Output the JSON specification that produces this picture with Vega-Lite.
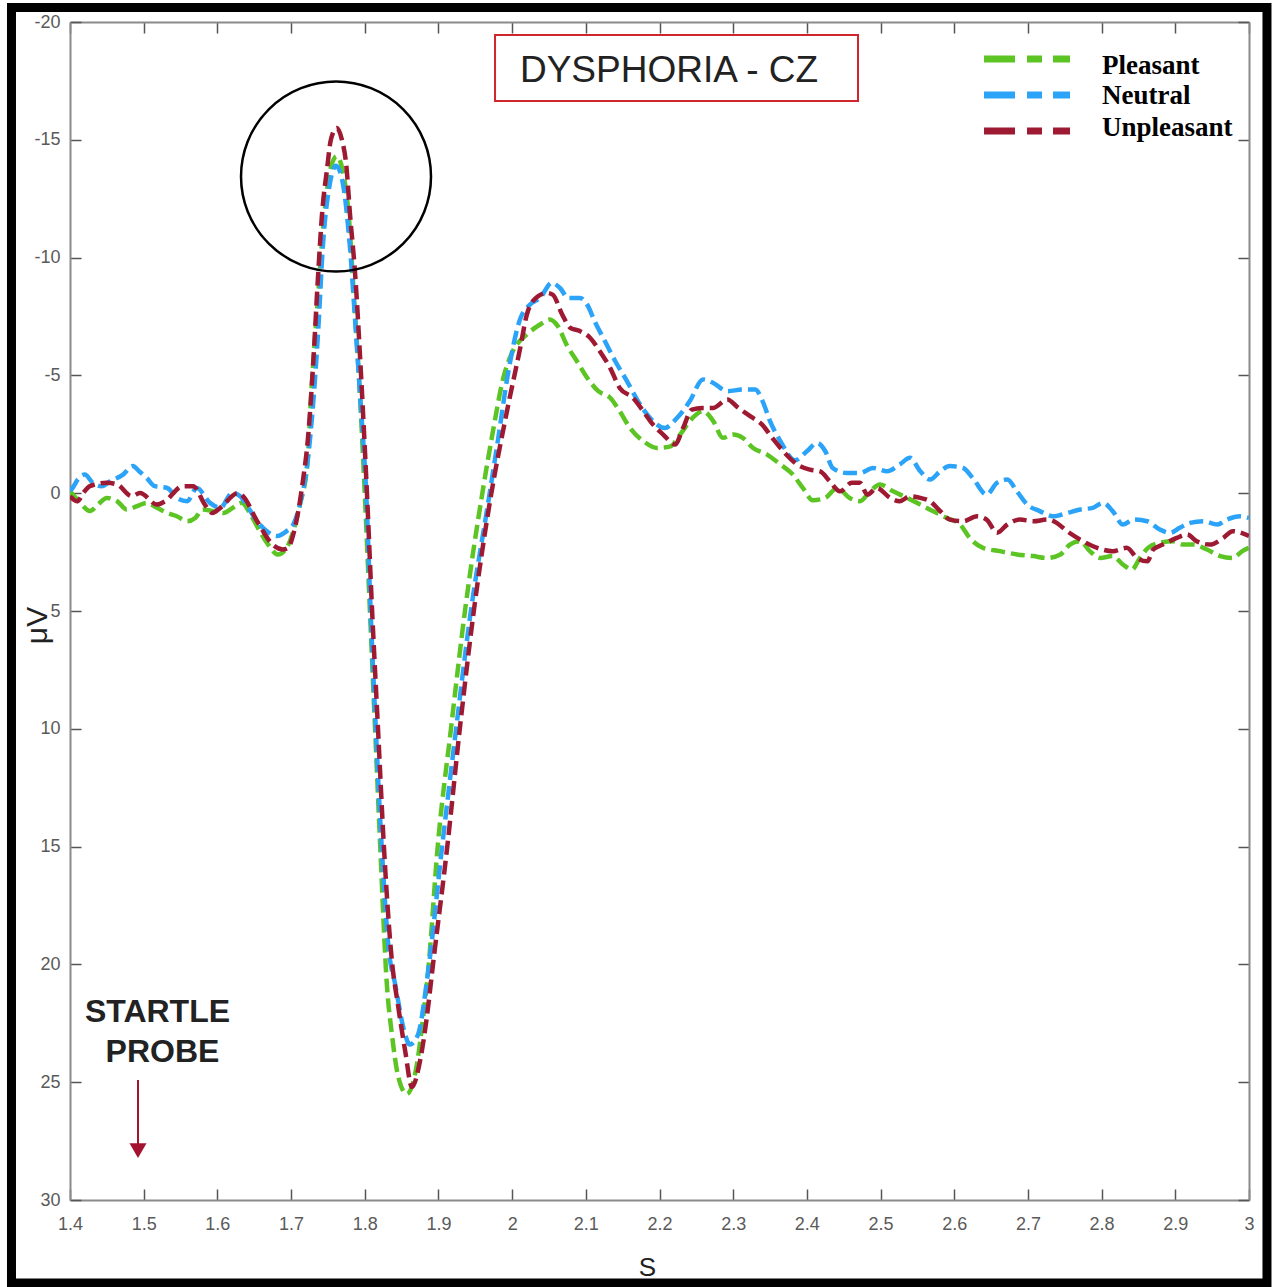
{
  "$schema": "https://vega.github.io/schema/vega-lite/v6.json",
  "width": 1179,
  "height": 1178,
  "autosize": {"type": "none"},
  "padding": {"left": 70, "top": 22, "right": 25, "bottom": 87},
  "background": "white",
  "config": {"view": {"stroke": null}, "axis": {"grid": false}},
  "datasets": {
    "waves": [
      {"cond":"Pleasant","t":1.400,"uv":-0.08},{"cond":"Pleasant","t":1.414,"uv":0.41},{"cond":"Pleasant","t":1.427,"uv":0.76},{"cond":"Pleasant","t":1.438,"uv":0.48},{"cond":"Pleasant","t":1.450,"uv":0.2},{"cond":"Pleasant","t":1.464,"uv":0.34},{"cond":"Pleasant","t":1.477,"uv":0.69},{"cond":"Pleasant","t":1.491,"uv":0.55},{"cond":"Pleasant","t":1.504,"uv":0.41},{"cond":"Pleasant","t":1.518,"uv":0.62},{"cond":"Pleasant","t":1.532,"uv":0.84},{"cond":"Pleasant","t":1.545,"uv":0.98},{"cond":"Pleasant","t":1.559,"uv":1.19},{"cond":"Pleasant","t":1.570,"uv":1.05},{"cond":"Pleasant","t":1.580,"uv":0.69},{"cond":"Pleasant","t":1.594,"uv":0.76},{"cond":"Pleasant","t":1.608,"uv":0.84},{"cond":"Pleasant","t":1.621,"uv":0.62},{"cond":"Pleasant","t":1.633,"uv":0.41},{"cond":"Pleasant","t":1.644,"uv":0.84},{"cond":"Pleasant","t":1.655,"uv":1.47},{"cond":"Pleasant","t":1.669,"uv":2.18},{"cond":"Pleasant","t":1.682,"uv":2.6},{"cond":"Pleasant","t":1.694,"uv":2.32},{"cond":"Pleasant","t":1.703,"uv":1.61},{"cond":"Pleasant","t":1.712,"uv":0.48},{"cond":"Pleasant","t":1.722,"uv":-1.22},{"cond":"Pleasant","t":1.728,"uv":-4.5},{"cond":"Pleasant","t":1.737,"uv":-8.5},{"cond":"Pleasant","t":1.745,"uv":-11.8},{"cond":"Pleasant","t":1.753,"uv":-13.7},{"cond":"Pleasant","t":1.762,"uv":-14.3},{"cond":"Pleasant","t":1.770,"uv":-13.7},{"cond":"Pleasant","t":1.779,"uv":-11.5},{"cond":"Pleasant","t":1.785,"uv":-8.5},{"cond":"Pleasant","t":1.792,"uv":-5},{"cond":"Pleasant","t":1.800,"uv":0},{"cond":"Pleasant","t":1.807,"uv":5},{"cond":"Pleasant","t":1.814,"uv":10},{"cond":"Pleasant","t":1.821,"uv":15},{"cond":"Pleasant","t":1.830,"uv":20.85},{"cond":"Pleasant","t":1.837,"uv":23},{"cond":"Pleasant","t":1.845,"uv":24.7},{"cond":"Pleasant","t":1.857,"uv":25.5},{"cond":"Pleasant","t":1.871,"uv":24.2},{"cond":"Pleasant","t":1.879,"uv":22.3},{"cond":"Pleasant","t":1.886,"uv":20.3},{"cond":"Pleasant","t":1.899,"uv":15},{"cond":"Pleasant","t":1.917,"uv":10},{"cond":"Pleasant","t":1.936,"uv":5},{"cond":"Pleasant","t":1.960,"uv":-0.08},{"cond":"Pleasant","t":1.974,"uv":-2.63},{"cond":"Pleasant","t":1.988,"uv":-4.89},{"cond":"Pleasant","t":2.001,"uv":-6.03},{"cond":"Pleasant","t":2.020,"uv":-6.74},{"cond":"Pleasant","t":2.038,"uv":-7.16},{"cond":"Pleasant","t":2.051,"uv":-7.37},{"cond":"Pleasant","t":2.062,"uv":-7.09},{"cond":"Pleasant","t":2.074,"uv":-6.3},{"cond":"Pleasant","t":2.088,"uv":-5.6},{"cond":"Pleasant","t":2.102,"uv":-4.89},{"cond":"Pleasant","t":2.117,"uv":-4.33},{"cond":"Pleasant","t":2.133,"uv":-4.05},{"cond":"Pleasant","t":2.146,"uv":-3.48},{"cond":"Pleasant","t":2.160,"uv":-2.77},{"cond":"Pleasant","t":2.178,"uv":-2.21},{"cond":"Pleasant","t":2.197,"uv":-1.92},{"cond":"Pleasant","t":2.215,"uv":-1.99},{"cond":"Pleasant","t":2.228,"uv":-2.49},{"cond":"Pleasant","t":2.245,"uv":-3.2},{"cond":"Pleasant","t":2.259,"uv":-3.48},{"cond":"Pleasant","t":2.273,"uv":-3.06},{"cond":"Pleasant","t":2.286,"uv":-2.35},{"cond":"Pleasant","t":2.300,"uv":-2.49},{"cond":"Pleasant","t":2.313,"uv":-2.35},{"cond":"Pleasant","t":2.327,"uv":-1.92},{"cond":"Pleasant","t":2.346,"uv":-1.64},{"cond":"Pleasant","t":2.364,"uv":-1.22},{"cond":"Pleasant","t":2.381,"uv":-0.79},{"cond":"Pleasant","t":2.395,"uv":-0.2},{"cond":"Pleasant","t":2.408,"uv":0.3},{"cond":"Pleasant","t":2.425,"uv":0.2},{"cond":"Pleasant","t":2.441,"uv":-0.22},{"cond":"Pleasant","t":2.458,"uv":0.2},{"cond":"Pleasant","t":2.472,"uv":0.34},{"cond":"Pleasant","t":2.486,"uv":-0.08},{"cond":"Pleasant","t":2.499,"uv":-0.37},{"cond":"Pleasant","t":2.517,"uv":-0.08},{"cond":"Pleasant","t":2.536,"uv":0.2},{"cond":"Pleasant","t":2.554,"uv":0.48},{"cond":"Pleasant","t":2.571,"uv":0.76},{"cond":"Pleasant","t":2.590,"uv":1.05},{"cond":"Pleasant","t":2.608,"uv":1.33},{"cond":"Pleasant","t":2.621,"uv":1.9},{"cond":"Pleasant","t":2.639,"uv":2.32},{"cond":"Pleasant","t":2.662,"uv":2.46},{"cond":"Pleasant","t":2.685,"uv":2.6},{"cond":"Pleasant","t":2.707,"uv":2.67},{"cond":"Pleasant","t":2.726,"uv":2.75},{"cond":"Pleasant","t":2.744,"uv":2.6},{"cond":"Pleasant","t":2.757,"uv":2.18},{"cond":"Pleasant","t":2.771,"uv":2.04},{"cond":"Pleasant","t":2.784,"uv":2.46},{"cond":"Pleasant","t":2.798,"uv":2.75},{"cond":"Pleasant","t":2.815,"uv":2.67},{"cond":"Pleasant","t":2.829,"uv":3.03},{"cond":"Pleasant","t":2.841,"uv":3.24},{"cond":"Pleasant","t":2.852,"uv":2.75},{"cond":"Pleasant","t":2.863,"uv":2.32},{"cond":"Pleasant","t":2.879,"uv":2.11},{"cond":"Pleasant","t":2.897,"uv":2.04},{"cond":"Pleasant","t":2.910,"uv":2.18},{"cond":"Pleasant","t":2.924,"uv":2.18},{"cond":"Pleasant","t":2.943,"uv":2.39},{"cond":"Pleasant","t":2.961,"uv":2.67},{"cond":"Pleasant","t":2.978,"uv":2.75},{"cond":"Pleasant","t":2.991,"uv":2.46},{"cond":"Pleasant","t":3.000,"uv":2.32},

      {"cond":"Neutral","t":1.400,"uv":-0.1},{"cond":"Neutral","t":1.403,"uv":-0.2},{"cond":"Neutral","t":1.411,"uv":-0.6},{"cond":"Neutral","t":1.420,"uv":-0.79},{"cond":"Neutral","t":1.431,"uv":-0.44},{"cond":"Neutral","t":1.443,"uv":-0.3},{"cond":"Neutral","t":1.454,"uv":-0.5},{"cond":"Neutral","t":1.472,"uv":-0.79},{"cond":"Neutral","t":1.485,"uv":-1.15},{"cond":"Neutral","t":1.495,"uv":-0.9},{"cond":"Neutral","t":1.504,"uv":-0.65},{"cond":"Neutral","t":1.515,"uv":-0.3},{"cond":"Neutral","t":1.532,"uv":-0.22},{"cond":"Neutral","t":1.545,"uv":0.2},{"cond":"Neutral","t":1.559,"uv":0.34},{"cond":"Neutral","t":1.572,"uv":-0.22},{"cond":"Neutral","t":1.590,"uv":0.41},{"cond":"Neutral","t":1.604,"uv":0.62},{"cond":"Neutral","t":1.620,"uv":-0.01},{"cond":"Neutral","t":1.631,"uv":0.13},{"cond":"Neutral","t":1.642,"uv":0.62},{"cond":"Neutral","t":1.654,"uv":1.19},{"cond":"Neutral","t":1.667,"uv":1.61},{"cond":"Neutral","t":1.681,"uv":1.82},{"cond":"Neutral","t":1.694,"uv":1.61},{"cond":"Neutral","t":1.703,"uv":1.33},{"cond":"Neutral","t":1.712,"uv":0.48},{"cond":"Neutral","t":1.722,"uv":-1.22},{"cond":"Neutral","t":1.728,"uv":-3.06},{"cond":"Neutral","t":1.737,"uv":-7.0},{"cond":"Neutral","t":1.743,"uv":-10.4},{"cond":"Neutral","t":1.753,"uv":-13.2},{"cond":"Neutral","t":1.761,"uv":-13.9},{"cond":"Neutral","t":1.770,"uv":-13.2},{"cond":"Neutral","t":1.780,"uv":-10.4},{"cond":"Neutral","t":1.787,"uv":-7.3},{"cond":"Neutral","t":1.794,"uv":-4.0},{"cond":"Neutral","t":1.802,"uv":0},{"cond":"Neutral","t":1.808,"uv":5},{"cond":"Neutral","t":1.815,"uv":10},{"cond":"Neutral","t":1.823,"uv":15},{"cond":"Neutral","t":1.833,"uv":19.5},{"cond":"Neutral","t":1.841,"uv":20.8},{"cond":"Neutral","t":1.855,"uv":23},{"cond":"Neutral","t":1.861,"uv":23.4},{"cond":"Neutral","t":1.872,"uv":23},{"cond":"Neutral","t":1.886,"uv":20.3},{"cond":"Neutral","t":1.905,"uv":15},{"cond":"Neutral","t":1.924,"uv":10},{"cond":"Neutral","t":1.944,"uv":5},{"cond":"Neutral","t":1.967,"uv":0.5},{"cond":"Neutral","t":1.981,"uv":-2.3},{"cond":"Neutral","t":1.994,"uv":-5},{"cond":"Neutral","t":2.011,"uv":-7.4},{"cond":"Neutral","t":2.024,"uv":-8.0},{"cond":"Neutral","t":2.038,"uv":-8.29},{"cond":"Neutral","t":2.054,"uv":-8.93},{"cond":"Neutral","t":2.065,"uv":-8.71},{"cond":"Neutral","t":2.076,"uv":-8.29},{"cond":"Neutral","t":2.092,"uv":-8.29},{"cond":"Neutral","t":2.102,"uv":-8.0},{"cond":"Neutral","t":2.112,"uv":-7.3},{"cond":"Neutral","t":2.126,"uv":-6.45},{"cond":"Neutral","t":2.140,"uv":-5.6},{"cond":"Neutral","t":2.156,"uv":-4.75},{"cond":"Neutral","t":2.171,"uv":-3.9},{"cond":"Neutral","t":2.187,"uv":-3.2},{"cond":"Neutral","t":2.207,"uv":-2.77},{"cond":"Neutral","t":2.224,"uv":-3.2},{"cond":"Neutral","t":2.241,"uv":-3.9},{"cond":"Neutral","t":2.259,"uv":-4.83},{"cond":"Neutral","t":2.273,"uv":-4.68},{"cond":"Neutral","t":2.292,"uv":-4.33},{"cond":"Neutral","t":2.313,"uv":-4.4},{"cond":"Neutral","t":2.330,"uv":-4.4},{"cond":"Neutral","t":2.340,"uv":-3.9},{"cond":"Neutral","t":2.350,"uv":-3.06},{"cond":"Neutral","t":2.364,"uv":-2.21},{"cond":"Neutral","t":2.384,"uv":-1.4},{"cond":"Neutral","t":2.400,"uv":-1.78},{"cond":"Neutral","t":2.414,"uv":-2.13},{"cond":"Neutral","t":2.425,"uv":-1.78},{"cond":"Neutral","t":2.435,"uv":-1.07},{"cond":"Neutral","t":2.454,"uv":-0.86},{"cond":"Neutral","t":2.472,"uv":-0.86},{"cond":"Neutral","t":2.490,"uv":-1.07},{"cond":"Neutral","t":2.509,"uv":-0.93},{"cond":"Neutral","t":2.526,"uv":-1.22},{"cond":"Neutral","t":2.540,"uv":-1.5},{"cond":"Neutral","t":2.554,"uv":-0.93},{"cond":"Neutral","t":2.567,"uv":-0.58},{"cond":"Neutral","t":2.581,"uv":-0.93},{"cond":"Neutral","t":2.594,"uv":-1.15},{"cond":"Neutral","t":2.612,"uv":-1.07},{"cond":"Neutral","t":2.625,"uv":-0.65},{"cond":"Neutral","t":2.644,"uv":0.06},{"cond":"Neutral","t":2.658,"uv":-0.44},{"cond":"Neutral","t":2.672,"uv":-0.58},{"cond":"Neutral","t":2.685,"uv":-0.08},{"cond":"Neutral","t":2.699,"uv":0.48},{"cond":"Neutral","t":2.716,"uv":0.76},{"cond":"Neutral","t":2.734,"uv":0.98},{"cond":"Neutral","t":2.753,"uv":0.84},{"cond":"Neutral","t":2.771,"uv":0.69},{"cond":"Neutral","t":2.788,"uv":0.62},{"cond":"Neutral","t":2.802,"uv":0.41},{"cond":"Neutral","t":2.815,"uv":0.76},{"cond":"Neutral","t":2.829,"uv":1.33},{"cond":"Neutral","t":2.843,"uv":1.12},{"cond":"Neutral","t":2.862,"uv":1.19},{"cond":"Neutral","t":2.879,"uv":1.54},{"cond":"Neutral","t":2.893,"uv":1.68},{"cond":"Neutral","t":2.906,"uv":1.47},{"cond":"Neutral","t":2.920,"uv":1.26},{"cond":"Neutral","t":2.938,"uv":1.19},{"cond":"Neutral","t":2.957,"uv":1.33},{"cond":"Neutral","t":2.970,"uv":1.12},{"cond":"Neutral","t":2.988,"uv":0.98},{"cond":"Neutral","t":3.000,"uv":1.05},

      {"cond":"Unpleasant","t":1.400,"uv":0.13},{"cond":"Unpleasant","t":1.410,"uv":0.34},{"cond":"Unpleasant","t":1.418,"uv":-0.01},{"cond":"Unpleasant","t":1.427,"uv":-0.3},{"cond":"Unpleasant","t":1.450,"uv":-0.44},{"cond":"Unpleasant","t":1.464,"uv":-0.37},{"cond":"Unpleasant","t":1.484,"uv":0.13},{"cond":"Unpleasant","t":1.495,"uv":-0.01},{"cond":"Unpleasant","t":1.518,"uv":0.48},{"cond":"Unpleasant","t":1.529,"uv":0.34},{"cond":"Unpleasant","t":1.553,"uv":-0.3},{"cond":"Unpleasant","t":1.567,"uv":-0.3},{"cond":"Unpleasant","t":1.583,"uv":0.48},{"cond":"Unpleasant","t":1.593,"uv":0.84},{"cond":"Unpleasant","t":1.604,"uv":0.62},{"cond":"Unpleasant","t":1.628,"uv":-0.01},{"cond":"Unpleasant","t":1.635,"uv":0.13},{"cond":"Unpleasant","t":1.654,"uv":1.19},{"cond":"Unpleasant","t":1.675,"uv":2.18},{"cond":"Unpleasant","t":1.689,"uv":2.39},{"cond":"Unpleasant","t":1.696,"uv":2.32},{"cond":"Unpleasant","t":1.703,"uv":1.75},{"cond":"Unpleasant","t":1.709,"uv":0.9},{"cond":"Unpleasant","t":1.716,"uv":-0.51},{"cond":"Unpleasant","t":1.723,"uv":-2.35},{"cond":"Unpleasant","t":1.730,"uv":-5.5},{"cond":"Unpleasant","t":1.737,"uv":-9.42},{"cond":"Unpleasant","t":1.742,"uv":-11.83},{"cond":"Unpleasant","t":1.749,"uv":-13.8},{"cond":"Unpleasant","t":1.754,"uv":-15.0},{"cond":"Unpleasant","t":1.762,"uv":-15.5},{"cond":"Unpleasant","t":1.769,"uv":-15.0},{"cond":"Unpleasant","t":1.775,"uv":-13.9},{"cond":"Unpleasant","t":1.780,"uv":-11.83},{"cond":"Unpleasant","t":1.787,"uv":-9.28},{"cond":"Unpleasant","t":1.795,"uv":-5},{"cond":"Unpleasant","t":1.803,"uv":0},{"cond":"Unpleasant","t":1.810,"uv":5},{"cond":"Unpleasant","t":1.818,"uv":10},{"cond":"Unpleasant","t":1.826,"uv":15},{"cond":"Unpleasant","t":1.837,"uv":19.9},{"cond":"Unpleasant","t":1.845,"uv":21.7},{"cond":"Unpleasant","t":1.855,"uv":23.7},{"cond":"Unpleasant","t":1.864,"uv":25.2},{"cond":"Unpleasant","t":1.875,"uv":24.1},{"cond":"Unpleasant","t":1.884,"uv":22.3},{"cond":"Unpleasant","t":1.893,"uv":19.9},{"cond":"Unpleasant","t":1.912,"uv":15},{"cond":"Unpleasant","t":1.929,"uv":10},{"cond":"Unpleasant","t":1.948,"uv":5},{"cond":"Unpleasant","t":1.970,"uv":0.34},{"cond":"Unpleasant","t":1.993,"uv":-3.48},{"cond":"Unpleasant","t":2.011,"uv":-6.17},{"cond":"Unpleasant","t":2.020,"uv":-7.58},{"cond":"Unpleasant","t":2.028,"uv":-8.15},{"cond":"Unpleasant","t":2.047,"uv":-8.5},{"cond":"Unpleasant","t":2.055,"uv":-8.43},{"cond":"Unpleasant","t":2.068,"uv":-7.58},{"cond":"Unpleasant","t":2.079,"uv":-7.02},{"cond":"Unpleasant","t":2.092,"uv":-6.88},{"cond":"Unpleasant","t":2.106,"uv":-6.59},{"cond":"Unpleasant","t":2.119,"uv":-6.03},{"cond":"Unpleasant","t":2.133,"uv":-5.32},{"cond":"Unpleasant","t":2.146,"uv":-4.47},{"cond":"Unpleasant","t":2.164,"uv":-4.05},{"cond":"Unpleasant","t":2.178,"uv":-3.48},{"cond":"Unpleasant","t":2.191,"uv":-2.92},{"cond":"Unpleasant","t":2.205,"uv":-2.49},{"cond":"Unpleasant","t":2.221,"uv":-2.07},{"cond":"Unpleasant","t":2.232,"uv":-2.77},{"cond":"Unpleasant","t":2.244,"uv":-3.55},{"cond":"Unpleasant","t":2.258,"uv":-3.62},{"cond":"Unpleasant","t":2.273,"uv":-3.62},{"cond":"Unpleasant","t":2.292,"uv":-3.98},{"cond":"Unpleasant","t":2.307,"uv":-3.62},{"cond":"Unpleasant","t":2.323,"uv":-3.27},{"cond":"Unpleasant","t":2.339,"uv":-2.92},{"cond":"Unpleasant","t":2.353,"uv":-2.35},{"cond":"Unpleasant","t":2.368,"uv":-1.78},{"cond":"Unpleasant","t":2.387,"uv":-1.22},{"cond":"Unpleasant","t":2.404,"uv":-1.0},{"cond":"Unpleasant","t":2.418,"uv":-0.93},{"cond":"Unpleasant","t":2.431,"uv":-0.51},{"cond":"Unpleasant","t":2.445,"uv":-0.08},{"cond":"Unpleasant","t":2.461,"uv":-0.44},{"cond":"Unpleasant","t":2.472,"uv":-0.44},{"cond":"Unpleasant","t":2.482,"uv":0.06},{"cond":"Unpleasant","t":2.495,"uv":-0.22},{"cond":"Unpleasant","t":2.513,"uv":0.2},{"cond":"Unpleasant","t":2.526,"uv":0.34},{"cond":"Unpleasant","t":2.540,"uv":0.13},{"cond":"Unpleasant","t":2.554,"uv":0.2},{"cond":"Unpleasant","t":2.567,"uv":0.34},{"cond":"Unpleasant","t":2.581,"uv":0.76},{"cond":"Unpleasant","t":2.594,"uv":1.12},{"cond":"Unpleasant","t":2.612,"uv":1.19},{"cond":"Unpleasant","t":2.631,"uv":0.98},{"cond":"Unpleasant","t":2.644,"uv":1.12},{"cond":"Unpleasant","t":2.658,"uv":1.68},{"cond":"Unpleasant","t":2.672,"uv":1.33},{"cond":"Unpleasant","t":2.689,"uv":1.12},{"cond":"Unpleasant","t":2.707,"uv":1.19},{"cond":"Unpleasant","t":2.726,"uv":1.12},{"cond":"Unpleasant","t":2.739,"uv":1.26},{"cond":"Unpleasant","t":2.753,"uv":1.61},{"cond":"Unpleasant","t":2.771,"uv":1.97},{"cond":"Unpleasant","t":2.794,"uv":2.32},{"cond":"Unpleasant","t":2.815,"uv":2.46},{"cond":"Unpleasant","t":2.834,"uv":2.32},{"cond":"Unpleasant","t":2.848,"uv":2.75},{"cond":"Unpleasant","t":2.862,"uv":2.89},{"cond":"Unpleasant","t":2.870,"uv":2.39},{"cond":"Unpleasant","t":2.883,"uv":2.18},{"cond":"Unpleasant","t":2.902,"uv":1.9},{"cond":"Unpleasant","t":2.916,"uv":1.75},{"cond":"Unpleasant","t":2.929,"uv":2.04},{"cond":"Unpleasant","t":2.947,"uv":2.18},{"cond":"Unpleasant","t":2.965,"uv":1.9},{"cond":"Unpleasant","t":2.978,"uv":1.61},{"cond":"Unpleasant","t":3.000,"uv":1.82}
    ],
    "frame": [{"x0": 1.3206, "x1": 3.0244, "y0": -20.615, "y1": 33.523}],
    "legendRows": [
      {"cond": "Pleasant", "x0": 2.6404, "x1": 2.7571, "yLine": -18.43, "tx": 2.8005, "yText": -17.79},
      {"cond": "Neutral", "x0": 2.6404, "x1": 2.7571, "yLine": -16.90, "tx": 2.8005, "yText": -16.52},
      {"cond": "Unpleasant", "x0": 2.6404, "x1": 2.7571, "yLine": -15.37, "tx": 2.8005, "yText": -15.16}
    ],
    "titleBox": [{"x0": 1.9768, "x1": 2.4694, "y0": -19.448, "y1": -16.647, "tx": 2.2129, "ty": -17.453, "label": "DYSPHORIA - CZ"}],
    "highlight": [{"t": 1.761, "uv": -13.442}],
    "probeText": [
      {"t": 1.5187, "uv": 22.445, "label": "STARTLE"},
      {"t": 1.5255, "uv": 24.143, "label": "PROBE"}
    ],
    "probeArrow": [{"t": 1.4923, "y0": 24.907, "y1": 27.666, "head": 27.90}]
  },
  "layer": [
    {
      "data": {"name": "frame"},
      "mark": {"type": "rect", "fill": "transparent", "stroke": "black", "strokeWidth": 9},
      "encoding": {
        "x": {"field": "x0", "type": "quantitative",
              "scale": {"domain": [1.4, 3], "nice": false, "zero": false},
              "axis": {"orient": "top", "labels": false, "title": null,
                       "values": [1.4,1.5,1.6,1.7,1.8,1.9,2,2.1,2.2,2.3,2.4,2.5,2.6,2.7,2.8,2.9,3],
                       "tickSize": -11, "tickColor": "#555555", "tickWidth": 1.5,
                       "domainColor": "#8a8a8a", "domainWidth": 2}},
        "x2": {"field": "x1"},
        "y": {"field": "y0", "type": "quantitative",
              "scale": {"domain": [-20, 30], "reverse": true, "nice": false, "zero": false},
              "axis": {"orient": "right", "labels": false, "title": null,
                       "values": [-20,-15,-10,-5,0,5,10,15,20,25,30],
                       "tickSize": -11, "tickColor": "#555555", "tickWidth": 1.5,
                       "domainColor": "#8a8a8a", "domainWidth": 2}},
        "y2": {"field": "y1"}
      }
    },
    {
      "data": {"name": "waves"},
      "mark": {"type": "line", "strokeWidth": 4.5, "strokeDash": [14, 6], "interpolate": "monotone", "clip": true},
      "encoding": {
        "x": {"field": "t", "type": "quantitative",
              "scale": {"domain": [1.4, 3], "nice": false, "zero": false},
              "axis": {"orient": "bottom",
                       "values": [1.4,1.5,1.6,1.7,1.8,1.9,2,2.1,2.2,2.3,2.4,2.5,2.6,2.7,2.8,2.9,3],
                       "labelExpr": "'' + datum.value",
                       "labelFlush": false, "labelOverlap": false, "labelBound": false,
                       "labelFont": "Liberation Sans", "labelFontSize": 18, "labelColor": "#5a5a5a",
                       "labelPadding": 26,
                       "tickSize": -11, "tickColor": "#555555", "tickWidth": 1.5,
                       "domainColor": "#8a8a8a", "domainWidth": 2,
                       "title": "S", "titleFont": "Liberation Sans", "titleFontSize": 26,
                       "titleFontWeight": "normal", "titleColor": "#222222",
                       "titleAlign": "center", "titleBaseline": "alphabetic",
                       "titleX": 577, "titleY": 75}},
        "y": {"field": "uv", "type": "quantitative",
              "scale": {"domain": [-20, 30], "reverse": true, "nice": false, "zero": false},
              "axis": {"orient": "left",
                       "values": [-20,-15,-10,-5,0,5,10,15,20,25,30],
                       "labelExpr": "'' + datum.value",
                       "labelFlush": false, "labelOverlap": false, "labelBound": false,
                       "labelFont": "Liberation Sans", "labelFontSize": 18, "labelColor": "#5a5a5a",
                       "labelPadding": 21,
                       "tickSize": -11, "tickColor": "#555555", "tickWidth": 1.5,
                       "domainColor": "#8a8a8a", "domainWidth": 2,
                       "title": "μV", "titleFont": "Liberation Sans", "titleFontSize": 30,
                       "titleFontWeight": "normal", "titleColor": "#222222",
                       "titleAngle": 270, "titleAlign": "center", "titleBaseline": "alphabetic",
                       "titleX": -24, "titleY": 603}},
        "color": {"field": "cond", "type": "nominal",
                  "scale": {"domain": ["Pleasant", "Neutral", "Unpleasant"], "range": ["#5cc524", "#2ba3f8", "#9e1a33"]},
                  "legend": null}
      }
    },
    {
      "data": {"name": "titleBox"},
      "mark": {"type": "rect", "fill": "white", "stroke": "#d0262b", "strokeWidth": 2},
      "encoding": {
        "x": {"field": "x0", "type": "quantitative", "scale": {"domain": [1.4, 3], "nice": false, "zero": false}, "axis": null},
        "x2": {"field": "x1"},
        "y": {"field": "y0", "type": "quantitative", "scale": {"domain": [-20, 30], "reverse": true, "nice": false, "zero": false}, "axis": null},
        "y2": {"field": "y1"}
      }
    },
    {
      "data": {"name": "titleBox"},
      "mark": {"type": "text", "font": "Liberation Sans", "fontSize": 37, "color": "#222222", "align": "center", "baseline": "alphabetic"},
      "encoding": {
        "x": {"field": "tx", "type": "quantitative", "scale": {"domain": [1.4, 3], "nice": false, "zero": false}, "axis": null},
        "y": {"field": "ty", "type": "quantitative", "scale": {"domain": [-20, 30], "reverse": true, "nice": false, "zero": false}, "axis": null},
        "text": {"field": "label"}
      }
    },
    {
      "data": {"name": "legendRows"},
      "mark": {"type": "rule", "strokeWidth": 7, "strokeDash": [31, 12, 15, 11, 17, 300]},
      "encoding": {
        "x": {"field": "x0", "type": "quantitative", "scale": {"domain": [1.4, 3], "nice": false, "zero": false}, "axis": null},
        "x2": {"field": "x1"},
        "y": {"field": "yLine", "type": "quantitative", "scale": {"domain": [-20, 30], "reverse": true, "nice": false, "zero": false}, "axis": null},
        "color": {"field": "cond", "type": "nominal", "legend": null}
      }
    },
    {
      "data": {"name": "legendRows"},
      "mark": {"type": "text", "font": "Liberation Serif", "fontWeight": "bold", "fontSize": 27, "color": "black", "align": "left", "baseline": "alphabetic"},
      "encoding": {
        "x": {"field": "tx", "type": "quantitative", "scale": {"domain": [1.4, 3], "nice": false, "zero": false}, "axis": null},
        "y": {"field": "yText", "type": "quantitative", "scale": {"domain": [-20, 30], "reverse": true, "nice": false, "zero": false}, "axis": null},
        "text": {"field": "cond"}
      }
    },
    {
      "data": {"name": "highlight"},
      "mark": {"type": "point", "shape": "circle", "filled": false, "stroke": "black", "strokeWidth": 2.5, "opacity": 1, "size": 36100},
      "encoding": {
        "x": {"field": "t", "type": "quantitative", "scale": {"domain": [1.4, 3], "nice": false, "zero": false}, "axis": null},
        "y": {"field": "uv", "type": "quantitative", "scale": {"domain": [-20, 30], "reverse": true, "nice": false, "zero": false}, "axis": null}
      }
    },
    {
      "data": {"name": "probeText"},
      "mark": {"type": "text", "font": "Liberation Sans", "fontWeight": "bold", "fontSize": 32, "color": "#222222", "align": "center", "baseline": "alphabetic"},
      "encoding": {
        "x": {"field": "t", "type": "quantitative", "scale": {"domain": [1.4, 3], "nice": false, "zero": false}, "axis": null},
        "y": {"field": "uv", "type": "quantitative", "scale": {"domain": [-20, 30], "reverse": true, "nice": false, "zero": false}, "axis": null},
        "text": {"field": "label"}
      }
    },
    {
      "data": {"name": "probeArrow"},
      "mark": {"type": "rule", "color": "#a3122e", "strokeWidth": 2},
      "encoding": {
        "x": {"field": "t", "type": "quantitative", "scale": {"domain": [1.4, 3], "nice": false, "zero": false}, "axis": null},
        "y": {"field": "y0", "type": "quantitative", "scale": {"domain": [-20, 30], "reverse": true, "nice": false, "zero": false}, "axis": null},
        "y2": {"field": "y1"}
      }
    },
    {
      "data": {"name": "probeArrow"},
      "mark": {"type": "point", "shape": "triangle-down", "filled": true, "color": "#a3122e", "opacity": 1, "size": 290},
      "encoding": {
        "x": {"field": "t", "type": "quantitative", "scale": {"domain": [1.4, 3], "nice": false, "zero": false}, "axis": null},
        "y": {"field": "head", "type": "quantitative", "scale": {"domain": [-20, 30], "reverse": true, "nice": false, "zero": false}, "axis": null}
      }
    }
  ],
  "resolve": {"axis": {"x": "independent", "y": "independent"}}
}
